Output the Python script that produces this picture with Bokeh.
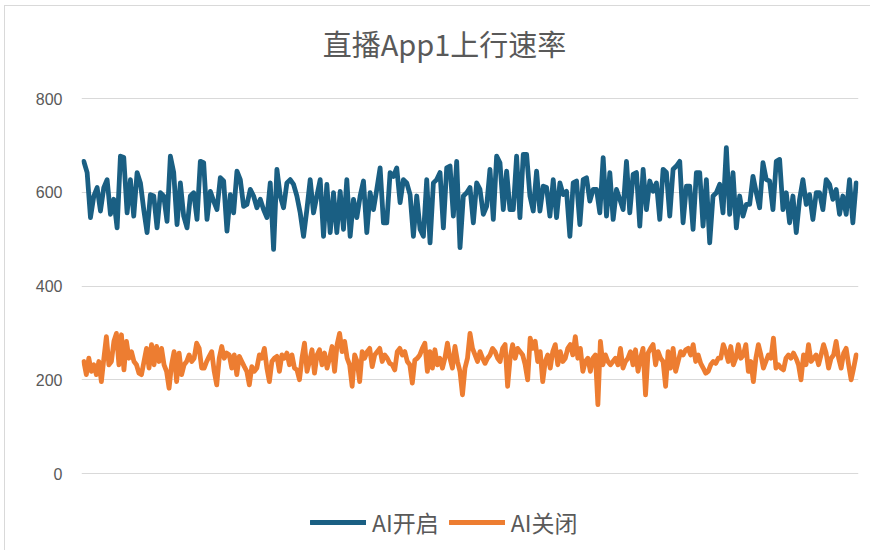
import numpy as np
from bokeh.plotting import figure
from bokeh.models import Range1d, FixedTicker, Legend, LegendItem, Label
from bokeh.embed import file_html
from bokeh.resources import INLINE

title_text = "直播App1上行速率"
series_names = ["AI开启", "AI关闭"]
y_ticks = [0, 200, 400, 600, 800]

ai_on = [
    666, 642, 546, 592, 610, 560, 610, 627, 553, 585, 524, 677, 674, 556, 627, 549, 642, 620, 563, 514,
    595, 592, 524, 599, 592, 538, 677, 642, 531, 620, 549, 524, 592, 599, 542, 666, 663, 542, 602, 581,
    563, 631, 624, 517, 595, 556, 645, 627, 570, 574, 606, 592, 567, 585, 563, 546, 620, 478,
    649, 592, 567, 620, 627, 617, 592, 556, 506, 563, 627, 556, 592, 627, 506, 617, 514, 599, 514, 602,
    521, 627, 506, 585, 546, 592, 624, 514, 599, 563, 606, 652, 535, 535, 642, 634, 652, 578, 627, 620,
    595, 506, 592, 521, 506, 627, 492, 620, 627, 642, 524, 652, 656, 549, 666, 482,
    592, 599, 610, 535, 620, 606, 553, 570, 649, 542, 677, 663, 563, 645, 563, 563, 677, 546, 681, 681,
    592, 560, 645, 560, 613, 610, 549, 627, 546, 620, 595, 602, 506, 620, 624, 531, 627, 631, 581, 606,
    606, 556, 674, 549, 642, 542, 606, 585, 563, 666, 556, 638,
    642, 528, 649, 563, 624, 602, 620, 542, 649, 642, 549, 649, 656, 666, 535, 613, 613, 521, 642, 642,
    528, 627, 492, 592, 599, 617, 556, 695, 553, 642, 524, 592, 549, 574, 574, 634, 599, 567, 663, 627,
    624, 563, 666, 670, 563, 599, 535, 592, 514, 585, 627, 574, 595, 542, 599, 599, 563, 627, 617, 585,
    606, 553, 592, 553, 627, 535, 620,
]

ai_off = [
    239, 211, 246, 218, 232, 211, 239, 196, 246, 292, 232, 239, 282, 299, 232, 296, 221, 282, 246, 260,
    239, 232, 214, 211, 239, 267, 225, 275, 232, 271, 239, 267, 232, 218, 182, 232, 260, 196, 257, 211,
    232, 239, 253, 239, 246, 278, 267, 225, 225, 239, 250, 260, 218, 189, 246, 271, 246, 257, 253, 225,
    253, 211, 250, 239, 228, 218, 189, 228, 218, 225, 253, 246, 267, 225, 196, 239, 246, 250, 218, 253,
    246, 257, 232, 253, 225, 221, 200, 246, 278, 218, 239, 264, 214, 253, 264, 232, 257, 225, 246, 271,
    218, 275, 299, 260, 282, 246, 232, 186, 253, 239, 196, 260, 246, 260, 267, 228, 253, 260, 267, 239,
    253, 246, 235, 232, 221, 260, 267, 253, 260, 239, 232, 193, 242, 246, 253, 267, 278, 218, 260, 225,
    264, 232, 246, 225, 246, 278, 246, 225, 271, 239, 218, 168, 225, 246, 299, 267, 253, 239,
    260, 246, 235, 246, 253, 267, 260, 246, 239, 267, 275, 186, 246, 275, 246, 267, 260, 253, 232, 200,
    289, 267, 282, 239, 260, 196, 239, 253, 225, 260, 275, 232, 260, 239, 246, 267, 275, 253, 292, 246,
    267, 218, 239, 246, 218, 246, 253, 147, 282, 232, 253, 239, 232, 239, 246, 232, 267, 225, 239, 246,
    260, 232, 264, 218, 246, 267, 168, 257, 267, 275, 232, 260, 246, 239, 186, 260, 225, 267, 218, 239,
    260, 253, 264, 267, 253, 275, 239, 253, 235, 225, 214, 218, 232, 239, 235, 246, 246, 275, 260, 239,
    271, 232, 246, 275, 246, 253, 275, 218, 239, 196, 246, 275, 253, 225, 239, 253, 246, 289, 225, 232,
    225, 221, 246, 253, 246, 257, 246, 232, 200, 253, 232, 275, 239, 246, 253, 232, 253, 275, 257, 225,
    246, 253, 282, 246, 225, 257, 267, 232, 200, 225, 253,
]

x_on = np.linspace(0, 1, len(ai_on))
x_off = np.linspace(0, 1, len(ai_off))

BLUE = "#1A5F83"
ORANGE = "#ED7D31"
TEXT = "#595959"

p = figure(width=866, height=545, output_backend="svg", toolbar_location=None,
           x_range=Range1d(-0.003, 1.003), y_range=Range1d(-151.4, 996.3),
           min_border_left=76, min_border_right=13, min_border_top=0, min_border_bottom=7)
p.styles = {"border-left": "1px solid #d9d9d9", "border-top": "1px solid #d9d9d9",
            "margin-left": "4px", "margin-top": "5px"}
p.outline_line_color = None
p.background_fill_color = "white"
p.border_fill_color = "white"

title = Label(x=0.467, y=918, text=title_text, text_align="center", text_baseline="middle",
              text_font="Noto Sans CJK SC", text_font_size="29px", text_color=TEXT)
p.add_layout(title)

r1 = p.line(x_on, ai_on, line_color=BLUE, line_width=4.8, line_join="round", line_cap="round")
r2 = p.line(x_off, ai_off, line_color=ORANGE, line_width=4.8, line_join="round", line_cap="round")

p.xaxis.visible = False
p.xgrid.visible = False
p.ygrid.grid_line_color = "#d9d9d9"
p.ygrid.grid_line_width = 1
p.yaxis.ticker = FixedTicker(ticks=y_ticks)
p.yaxis.axis_line_color = None
p.yaxis.major_tick_line_color = None
p.yaxis.minor_tick_line_color = None
p.yaxis.major_label_standoff = 13
p.yaxis.major_label_text_font = "Liberation Sans"
p.yaxis.major_label_text_font_size = "16px"
p.yaxis.major_label_text_color = TEXT

legend = Legend(items=[LegendItem(label=series_names[0], renderers=[r1]),
                       LegendItem(label=series_names[1], renderers=[r2])],
                orientation="horizontal", location=(229, 5),
                glyph_width=56, glyph_height=20, label_standoff=6, spacing=10,
                padding=0, margin=0, border_line_color=None, background_fill_alpha=0,
                label_text_font="Noto Sans CJK SC", label_text_font_size="23px",
                label_text_color=TEXT)
p.add_layout(legend)

open("out.html", "w").write(file_html(p, INLINE))
